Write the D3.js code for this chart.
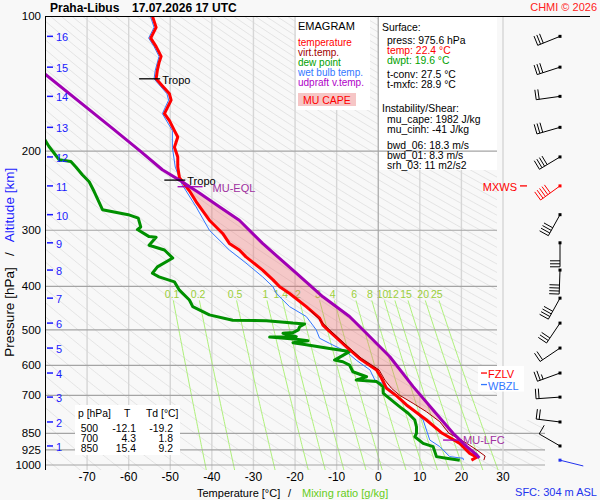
<!DOCTYPE html>
<html>
<head>
<meta charset="utf-8">
<title>Emagram Praha-Libus</title>
<script src="https://cdn.jsdelivr.net/npm/d3@7"></script>
<style>
  body { margin: 0; background: #f8f8f8; }
  svg { display: block; font-family: 'Liberation Sans', Arial, sans-serif; }
</style>
</head>
<body>
<svg class="canvas" width="600" height="500"></svg>
<script>
'use strict';

// Axis ticks.
const pressureTicks = [100, 200, 300, 400, 500, 600, 700, 850, 925, 1000];
const tempTicks = [-70, -60, -50, -40, -30, -20, -10, 0, 10, 20, 30];
const mixRatios = [0.1, 0.2, 0.5, 1, 1.4, 2, 3, 4, 6, 8, 10, 12, 15, 20, 25];

// Altitude marks [km] and the pressure they sit at [hPa].
const altKm = [1, 2, 3, 4, 5, 6, 7, 8, 9, 10, 11, 12, 13, 14, 15, 16];
const altP = [907, 802, 706, 624, 549, 483, 425, 368, 320, 277, 239, 206, 177, 151, 130, 111];

// Temperature [°C] at pressure [hPa].
const tempP = [100, 106, 112, 117, 123, 127, 132, 138, 142, 149, 154, 165, 171, 180, 186, 196, 206, 217, 229, 237,
  245, 259, 285, 305, 321, 332, 344, 368, 387, 401, 415, 444, 471, 488, 500, 545, 579, 614, 641, 675,
  700, 735, 794, 850, 895, 942, 961, 975.6];
const tempT = [-54.3, -53.4, -54.7, -53.4, -52.2, -52.7, -53.1, -53.4, -52.2, -50.2, -49.8, -51.4, -50.2, -49.0, -48.2, -49.0, -48.2, -48.2, -47.8, -46.6,
  -45.4, -43.8, -40.6, -37.4, -35.8, -33.4, -31.8, -27.8, -25.3, -23.7, -21.3, -17.3, -14.1, -13.3, -12.1, -7.7, -4.5, -0.4, 0.8, 2.0,
  4.3, 6.8, 11.6, 15.4, 19.6, 22.0, 23.7, 22.4];

// Dew point.
const dewP = [180, 187, 195, 209, 211, 217, 226, 234, 246, 270, 277, 282, 295, 299, 310, 311, 324, 332, 346, 362,
  374, 381, 391, 408, 429, 444, 463, 476, 477, 483, 485, 492, 500, 507, 509, 518, 519, 525, 529, 534,
  540, 550, 559, 584, 589, 599, 620, 636, 647, 652, 669, 692, 700, 742, 767, 794, 822, 850, 865, 895,
  910, 958, 966, 975.6];
const dewT = [-84, -80.4, -79.2, -76.7, -73.9, -72.7, -71.1, -69.5, -68.3, -66.3, -60.1, -57.7, -57.1, -57.9, -55.1, -53.4, -55.1, -51.4, -49.4, -53.1,
  -54.3, -52.7, -49.0, -47.8, -45.4, -44.6, -40.6, -35.0, -26.9, -20.5, -17.7, -18.9, -19.2, -20.5, -22.9, -19.7, -26.1, -19.7, -16.9, -20.5,
  -17.3, -11.7, -6.9, -10.5, -8.5, -6.9, -6.1, -2.8, -5.3, -0.4, 1.2, 1.2, 1.8, 5.2, 7.2, 8.8, 9.2, 9.2, 8.8, 10.8,
  13.2, 14.0, 16.4, 19.6];

// Wet bulb temperature.
const wetP = [100, 106, 112, 117, 123, 132, 138, 149, 154, 165, 180, 196, 217, 237, 266, 300, 332, 355, 381, 401,
  415, 444, 467, 500, 522, 536, 559, 584, 614, 647, 658, 687, 729, 767, 794, 836, 880, 910, 958, 966, 975.6];
const wetT = [-54.8, -53.9, -55.2, -53.9, -52.7, -53.6, -53.9, -50.8, -50.4, -51.9, -49.5, -49.5, -48.8, -47.2, -43.8, -40.6, -35.8, -31.8, -27.8, -25.3,
  -24.5, -21.3, -17.3, -14.9, -14.1, -11.7, -7.7, -5.3, -2.0, -0.8, 1.0, 3.6, 6.0, 9.2, 10.8, 11.6, 12.4, 14.8, 17.2, 20.4, 20.5];

// Virtual temperature (lower part, above it sits under the temperature line).
const virtP = [450, 500, 545, 579, 614, 647, 675, 700, 729, 761, 801, 850, 895, 926, 955, 975.6];
const virtT = [-16.6, -11.7, -7.3, -4.0, 0.2, 1.6, 3.2, 5.2, 8.4, 11.6, 14.8, 17.0, 21.3, 23.7, 25.7, 25.4];

// Most unstable parcel (updraft virtual temperature).
const parcelP = [128, 135, 178, 199, 220, 232, 248, 266, 285, 321, 374, 422, 467, 518, 574, 669, 754, 850, 910, 950, 965];
const parcelT = [-82, -80.0, -63.9, -57.5, -51.9, -47.8, -43.0, -38.2, -33.4, -27.8, -19.7, -13.3, -6.9, -2.0, 2.8, 8.4, 13.2, 18.0, 21.3, 23.7, 24.3];

// Wind at each altitude mark: direction [deg], speed [kt].
const windDir = [300, 277, 266, 250, 236, 214, 209, 182, 180, 209, 234, 239, 254, 262, 252, 248];
const windSpd = [10, 20, 20, 25, 20, 30, 40, 40, 30, 40, 50, 40, 30, 20, 30, 30];
const sfcWindDir = 104, sfcWindSpd = 3;
const maxWindKm = 11;

// Levels.
const sfcP = 975.6;
const tropoP = [138, 232];
const eqlP = 240, lfcP = 880, fzlP = 624, wbzP = 662;

// Text blocks.
const legendItems = ['temperature', 'virt.temp.', 'dew point', 'wet bulb temp.', 'udpraft v.temp.'];
const surfaceText = ['press: 975.6 hPa', 'temp: 22.4 °C', 'dwpt: 19.6 °C'];
const convText = ['t-conv: 27.5 °C', 't-mxfc: 28.9 °C'];
const instabText = ['mu_cape: 1982 J/kg', 'mu_cinh: -41 J/kg'];
const shearText = ['bwd_06: 18.3 m/s', 'bwd_01: 8.3 m/s', 'srh_03: 11 m2/s2'];
const tableP = [500, 700, 850];
const tableT = [-12.1, 4.3, 15.4];
const tableTd = [-19.2, 1.8, 9.2];

const RED = '#ff0000', DARKRED = '#a00000', GREEN = '#009000', BLUE = '#3377ff',
  PURPLE = '#a000b4', ALT = '#1a1aff', GRID = '#d6d6d6', PGRID = '#a4a4a4';

const svg = d3.select('.canvas');
const xScale = d3.scaleLinear().domain([-80, 30]).range([45.5, 503]);
const yScale = d3.scaleLog().domain([100, 1026]).range([16, 470]);
const line = d3.line().x(d => xScale(d.t)).y(d => yScale(d.p));
const toPts = (ps, ts) => ps.map((p, i) => ({ p, t: ts[i] }));

// Interpolate a profile in ln p.
function tAt(ps, ts, p) {
  for (let i = 0; i < ps.length - 1; i++) {
    if (p >= ps[i] && p <= ps[i + 1]) {
      const f = Math.log(p / ps[i]) / Math.log(ps[i + 1] / ps[i]);
      return ts[i] + f * (ts[i + 1] - ts[i]);
    }
  }
  return NaN;
}

svg.append('rect').attr('width', 600).attr('height', 500).attr('fill', '#f8f8f8');

const defs = svg.append('defs');
defs.append('clipPath').attr('id', 'grid-clip')
  .append('polygon').attr('points', '45,16 497,16 497,420 545,420 545,470 45,470');
defs.append('clipPath').attr('id', 'plot-clip')
  .append('rect').attr('x', 45).attr('y', 16).attr('width', 458).attr('height', 454);

const grid = svg.append('g').attr('clip-path', 'url(#grid-clip)');

// Dry adiabats.
const thetas = d3.range(190, 605, 5);
const adiabatP = d3.range(95, 1035, 5);
grid.selectAll('.dry').data(thetas).join('path')
  .attr('class', 'dry')
  .attr('d', th => line(adiabatP.map(p => ({ p, t: th * Math.pow(p / 1000, 0.2857) - 273.15 }))))
  .attr('fill', 'none').attr('stroke', '#dedede').attr('stroke-width', 0.8);

// Isotherms.
grid.selectAll('.iso').data(tempTicks.filter(t => t !== 0 && t !== 30)).join('line')
  .attr('class', 'iso')
  .attr('x1', t => xScale(t)).attr('x2', t => xScale(t))
  .attr('y1', 16).attr('y2', 470)
  .attr('stroke', GRID).attr('stroke-width', 1.4);

// Mixing ratio lines.
function dewFromMix(w, p) {
  const e = w * p / (622 + w);
  const l = Math.log(e / 6.112);
  return 243.5 * l / (17.67 - l);
}
const mixP = d3.range(430, 1040, 10);
grid.selectAll('.mix').data(mixRatios).join('path')
  .attr('class', 'mix')
  .attr('d', w => line(mixP.map(p => ({ p, t: dewFromMix(w, p) }))))
  .attr('fill', 'none').attr('stroke', '#aef07a').attr('stroke-width', 1);
svg.selectAll('.mixlab').data(mixRatios).join('text')
  .attr('class', 'mixlab')
  .attr('x', w => xScale(dewFromMix(w, 416)))
  .attr('y', yScale(416))
  .attr('text-anchor', 'middle').attr('dominant-baseline', 'central')
  .attr('font-size', 10.5).attr('fill', '#9ccf3a')
  .text(w => w);

// White info boxes.
svg.append('rect').attr('x', 296).attr('y', 17).attr('width', 74).attr('height', 93).attr('fill', '#fff');
svg.append('rect').attr('x', 379).attr('y', 17).attr('width', 118).attr('height', 153).attr('fill', '#fff');

// Pressure lines and the 0 °C / 30 °C isotherms.
svg.selectAll('.pline').data(pressureTicks.filter(p => p > 100)).join('line')
  .attr('class', 'pline')
  .attr('x1', 45).attr('x2', p => p >= 850 ? 545 : 497)
  .attr('y1', p => yScale(p)).attr('y2', p => yScale(p))
  .attr('stroke', PGRID).attr('stroke-width', 1.2);
svg.append('line').attr('x1', xScale(0)).attr('x2', xScale(0)).attr('y1', 16).attr('y2', 470)
  .attr('stroke', PGRID).attr('stroke-width', 1.2);
svg.append('line').attr('x1', xScale(30)).attr('x2', xScale(30)).attr('y1', 16).attr('y2', 470)
  .attr('stroke', GRID).attr('stroke-width', 1.4);

// Profiles.
const prof = svg.append('g').attr('clip-path', 'url(#plot-clip)');

// MU CAPE area between the parcel and the environment.
const envBoundary = p => p < 450 ? tAt(tempP, tempT, p) : tAt(virtP, virtT, p);
const parcelSide = [{ p: eqlP, t: tAt(parcelP, parcelT, eqlP) }]
  .concat(toPts(parcelP, parcelT).filter(d => d.p > eqlP && d.p < lfcP))
  .concat([{ p: lfcP, t: tAt(parcelP, parcelT, lfcP) }]);
const envSide = [lfcP]
  .concat(tempP.filter(p => p > eqlP && p < 450).concat(virtP.filter(p => p < lfcP)).sort((a, b) => b - a))
  .concat([eqlP])
  .map(p => ({ p, t: envBoundary(p) }));
prof.append('path')
  .attr('d', line(parcelSide.concat(envSide)) + 'Z')
  .attr('fill', 'rgba(240,100,100,0.32)');

const drawProfile = (ps, ts, color, width) => prof.append('path')
  .attr('d', line(toPts(ps, ts)))
  .attr('fill', 'none').attr('stroke', color).attr('stroke-width', width)
  .attr('stroke-linejoin', 'round');

drawProfile(wetP, wetT, BLUE, 1);
drawProfile(dewP, dewT, GREEN, 3);
drawProfile(tempP, tempT, RED, 3);
drawProfile(virtP, virtT, DARKRED, 1);
drawProfile(parcelP, parcelT, PURPLE, 3);

// Level markers.
const small = 11;
tropoP.forEach(p => {
  const x = xScale(tAt(tempP, tempT, p)), y = yScale(p);
  svg.append('line').attr('x1', x - 17).attr('x2', x + 4).attr('y1', y).attr('y2', y)
    .attr('stroke', '#000').attr('stroke-width', 1.3);
  svg.append('text').attr('x', x + 6).attr('y', y + 1).attr('dominant-baseline', 'central')
    .attr('font-size', small).text('Tropo');
});
{
  const x = xScale(tAt(parcelP, parcelT, eqlP)), y = yScale(eqlP);
  svg.append('line').attr('x1', x - 12).attr('x2', x + 13).attr('y1', y).attr('y2', y)
    .attr('stroke', PURPLE).attr('stroke-width', 1.3);
  svg.append('text').attr('x', x + 23).attr('y', y + 1).attr('dominant-baseline', 'central')
    .attr('font-size', small).attr('fill', '#a030a0').text('MU-EQL');
}
{
  const x = xScale(tAt(parcelP, parcelT, lfcP)), y = yScale(lfcP);
  svg.append('line').attr('x1', x - 17).attr('x2', x + 2).attr('y1', y).attr('y2', y)
    .attr('stroke', PURPLE).attr('stroke-width', 1.3);
  svg.append('text').attr('x', x + 3).attr('y', y).attr('dominant-baseline', 'central')
    .attr('font-size', small).attr('fill', '#a030a0').text('MU-LFC');
}

// Freezing / wet bulb zero levels.
svg.append('rect').attr('x', 478).attr('y', yScale(fzlP) - 7).attr('width', 46)
  .attr('height', yScale(wbzP) - yScale(fzlP) + 14).attr('fill', '#fff');
[[fzlP, 'FZLV', RED], [wbzP, 'WBZL', BLUE]].forEach(([p, label, color]) => {
  const y = yScale(p);
  svg.append('line').attr('x1', 481).attr('x2', 487).attr('y1', y).attr('y2', y)
    .attr('stroke', color).attr('stroke-width', 1.3);
  svg.append('text').attr('x', 488).attr('y', y + 1).attr('dominant-baseline', 'central')
    .attr('font-size', small).attr('fill', color).text(label);
});

// Axes.
svg.append('line').attr('x1', 45.5).attr('x2', 45.5).attr('y1', 16).attr('y2', 470).attr('stroke', '#000');
svg.append('line').attr('x1', 45).attr('x2', 590).attr('y1', 16.5).attr('y2', 16.5).attr('stroke', '#000');

svg.selectAll('.ptick').data(pressureTicks).join('text')
  .attr('class', 'ptick')
  .attr('x', 41).attr('y', p => yScale(p))
  .attr('text-anchor', 'end').attr('dominant-baseline', 'central')
  .attr('font-size', 11.5).text(p => p);

svg.selectAll('.ttick').data(tempTicks).join('text')
  .attr('class', 'ttick')
  .attr('x', t => xScale(t)).attr('y', 477)
  .attr('text-anchor', 'middle').attr('dominant-baseline', 'central')
  .attr('font-size', 12).text(t => t);

const alt = svg.append('g');
alt.selectAll('line').data(altKm).join('line')
  .attr('x1', 47).attr('x2', 53)
  .attr('y1', (k, i) => yScale(altP[i])).attr('y2', (k, i) => yScale(altP[i]))
  .attr('stroke', ALT).attr('stroke-width', 1.5);
alt.selectAll('text').data(altKm).join('text')
  .attr('x', 56).attr('y', (k, i) => yScale(altP[i]) + 1)
  .attr('dominant-baseline', 'central')
  .attr('font-size', 11).attr('fill', ALT).text(k => k);

// Axis titles.
svg.append('text').attr('x', 197).attr('y', 493).attr('dominant-baseline', 'central')
  .attr('font-size', 11).text('Temperature [°C]');
svg.append('text').attr('x', 288).attr('y', 493).attr('dominant-baseline', 'central')
  .attr('font-size', 11).text('/');
svg.append('text').attr('x', 302).attr('y', 493).attr('dominant-baseline', 'central')
  .attr('font-size', 11).attr('fill', '#66cc22').text('Mixing ratio [g/kg]');

[['Pressure [hPa]', 312, '#000'], ['/', 254, '#000'], ['Altitude [km]', 205, ALT]].forEach(([s, y, c]) => {
  svg.append('text').attr('x', 9).attr('y', y)
    .attr('transform', `rotate(-90, 9, ${y})`)
    .attr('text-anchor', 'middle').attr('dominant-baseline', 'central')
    .attr('font-size', 13.5).attr('fill', c).text(s);
});

// Title.
svg.append('text').attr('x', 50).attr('y', 8).attr('dominant-baseline', 'central')
  .attr('font-size', 12).attr('font-weight', 'bold').text('Praha-Libus');
svg.append('text').attr('x', 132).attr('y', 8).attr('dominant-baseline', 'central')
  .attr('font-size', 12).attr('font-weight', 'bold').text('17.07.2026 17 UTC');
svg.append('text').attr('x', 597).attr('y', 7).attr('text-anchor', 'end').attr('dominant-baseline', 'central')
  .attr('font-size', 11).attr('fill', '#ff2020').text('CHMI © 2026');

// Legend box.
svg.append('text').attr('x', 298).attr('y', 26).attr('dominant-baseline', 'central')
  .attr('font-size', 11).text('EMAGRAM');
const legendColors = [RED, DARKRED, '#00a000', BLUE, '#b000c8'];
svg.selectAll('.leg').data(legendItems).join('text')
  .attr('class', 'leg')
  .attr('x', 298).attr('y', (d, i) => 42 + i * 10)
  .attr('dominant-baseline', 'central')
  .attr('font-size', 10).attr('fill', (d, i) => legendColors[i]).text(d => d);
svg.append('rect').attr('x', 298).attr('y', 93).attr('width', 58).attr('height', 13).attr('fill', '#f6c6c6');
svg.append('text').attr('x', 303).attr('y', 100).attr('dominant-baseline', 'central')
  .attr('font-size', 10.5).attr('fill', RED).text('MU CAPE');

// Surface / instability box.
const info = (s, x, y, color) => svg.append('text').attr('x', x).attr('y', y)
  .attr('dominant-baseline', 'central').attr('font-size', 10.4).attr('fill', color || '#000').text(s);
info('Surface:', 382, 27);
surfaceText.forEach((s, i) => info(s, 387, 40 + i * 10, [null, RED, '#00a000'][i]));
convText.forEach((s, i) => info(s, 387, 74 + i * 10));
info('Instability/Shear:', 382, 108);
instabText.forEach((s, i) => info(s, 387, 119 + i * 10));
shearText.forEach((s, i) => info(s, 387, 145 + i * 10));

// Table of standard levels.
svg.append('rect').attr('x', 75).attr('y', 405).attr('width', 105).attr('height', 50).attr('fill', '#fff');
info('p [hPa]', 78, 413);
info('T', 124, 413);
info('Td [°C]', 146, 413);
tableP.forEach((p, i) => {
  const y = 428 + i * 10;
  svg.append('text').attr('x', 98).attr('y', y).attr('text-anchor', 'end').attr('dominant-baseline', 'central')
    .attr('font-size', 10.4).text(p);
  svg.append('text').attr('x', 136).attr('y', y).attr('text-anchor', 'end').attr('dominant-baseline', 'central')
    .attr('font-size', 10.4).text(tableT[i].toFixed(1));
  svg.append('text').attr('x', 173).attr('y', y).attr('text-anchor', 'end').attr('dominant-baseline', 'central')
    .attr('font-size', 10.4).text(tableTd[i].toFixed(1));
});

// Wind barbs.
const barbs = svg.append('g');
const barbX = 560;
function drawBarb(p, dir, spd, color) {
  const y = yScale(p);
  const a = dir * Math.PI / 180;
  const sx = Math.sin(a), sy = -Math.cos(a);
  const bx = -sy, by = sx;
  const tipX = barbX + sx * 24, tipY = y + sy * 24;
  barbs.append('line').attr('x1', barbX).attr('y1', y).attr('x2', tipX).attr('y2', tipY)
    .attr('stroke', color);
  const full = Math.floor(spd / 10), half = spd % 10 >= 5 ? 1 : 0;
  let pos = 0;
  for (let i = 0; i < full + half; i++) {
    const len = i < full ? 10 : 5;
    if (i >= full && pos === 0) pos = 3;
    const px = tipX - sx * pos, py = tipY - sy * pos;
    barbs.append('line').attr('x1', px).attr('y1', py)
      .attr('x2', px + bx * len).attr('y2', py + by * len).attr('stroke', color);
    pos += 3;
  }
  barbs.append('rect').attr('x', barbX - 1.5).attr('y', y - 1.5).attr('width', 3).attr('height', 3)
    .attr('fill', color);
}
altKm.forEach((k, i) => drawBarb(altP[i], windDir[i], windSpd[i], k === maxWindKm ? RED : '#000'));
drawBarb(sfcP, sfcWindDir, sfcWindSpd, '#2233ee');

{
  const y = yScale(altP[altKm.indexOf(maxWindKm)]);
  svg.append('text').attr('x', 517).attr('y', y + 1).attr('text-anchor', 'end').attr('dominant-baseline', 'central')
    .attr('font-size', 11).attr('fill', RED).text('MXWS');
  svg.append('line').attr('x1', 520).attr('x2', 527).attr('y1', y).attr('y2', y).attr('stroke', RED).attr('stroke-width', 1.3);
}

svg.append('text').attr('x', 597).attr('y', 492).attr('text-anchor', 'end').attr('dominant-baseline', 'central')
  .attr('font-size', 11).attr('fill', '#2233ee').text('SFC: 304 m ASL');
</script>
</body>
</html>
